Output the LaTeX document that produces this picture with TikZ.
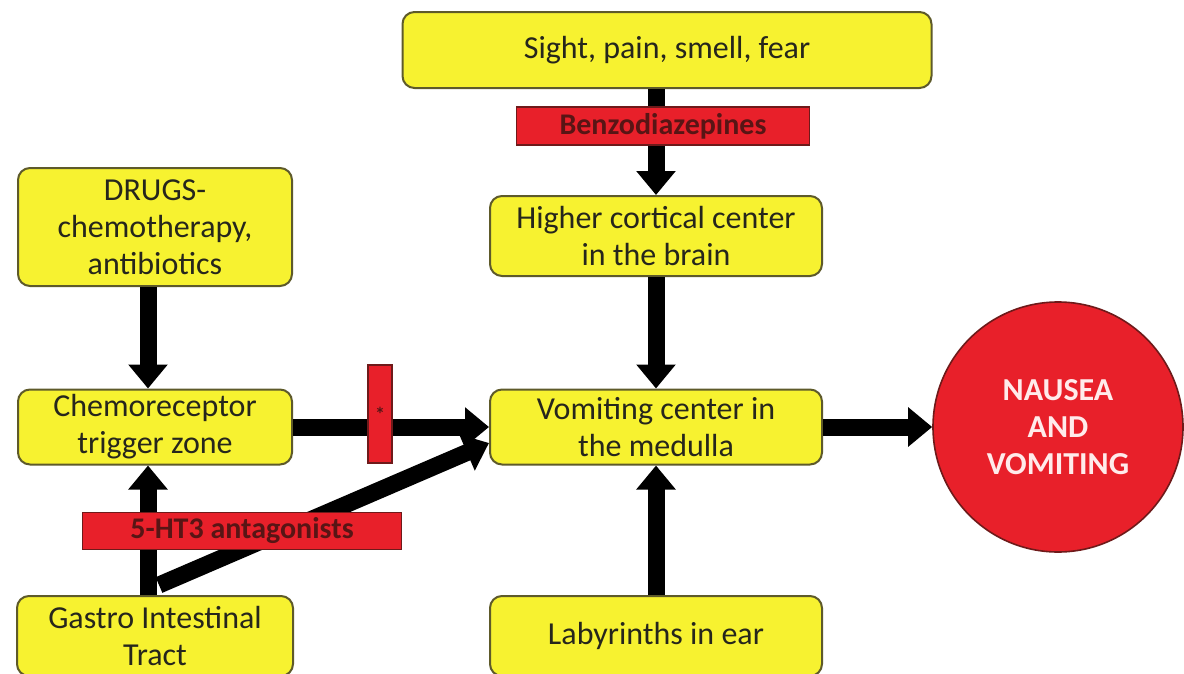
\documentclass[tikz,border=0pt]{standalone}
\usepackage{fontspec}
\setmainfont{Carlito}
\usetikzlibrary{arrows.meta}
\definecolor{ybox}{HTML}{F7F230}
\definecolor{yedge}{HTML}{5E5A2A}
\definecolor{rbox}{HTML}{E8202A}
\definecolor{redge}{HTML}{6E1A1A}
\definecolor{txt}{HTML}{26261C}
\tikzset{
  ybx/.style={draw=yedge, line width=2pt, fill=ybox, rounded corners=12pt, inner sep=0pt, align=center, text=txt,
     font=\fontsize{32}{37}\selectfont},
  rbx/.style={draw=redge, line width=1.6pt, fill=rbox, inner sep=0pt, align=center, text=redge!80!black,
     font=\fontsize{30}{30}\selectfont\bfseries},
  arr/.style={line width=17pt, black, -{Triangle[width=38pt,length=24pt]}, shorten >=0pt},
}
\begin{document}
\begin{tikzpicture}[x=1pt,y=-1pt]
\useasboundingbox (0,0) rectangle (1184,673);
\clip (0,0) rectangle (1184,673);
% yellow boxes
\node[ybx, minimum width=529pt, minimum height=76pt] (sight) at (667,50) {Sight, pain, smell, fear};
\node[ybx, minimum width=332pt, minimum height=80pt] (higher) at (656,236) {Higher cortical center\\in the brain};
\node[ybx, minimum width=274pt, minimum height=118pt] (drugs) at (155,227) {DRUGS-\\chemotherapy,\\antibiotics};
\node[ybx, minimum width=274pt, minimum height=75pt] (chemo) at (155,427) {Chemoreceptor\\trigger zone};
\node[ybx, minimum width=332pt, minimum height=75pt] (vomit) at (656,427) {Vomiting center in\\the medulla};
\node[ybx, minimum width=276pt, minimum height=80pt] (gastro) at (155,636) {Gastro Intestinal\\Tract};
\node[ybx, minimum width=332pt, minimum height=80pt] (laby) at (656,636) {Labyrinths in ear};
\node[circle, draw=redge, line width=1.6pt, fill=rbox, minimum size=250pt, inner sep=0pt, align=center,
      text=red!8!white, font=\fontsize{32}{37}\selectfont\bfseries] (nausea) at (1058,427) {NAUSEA\\AND\\VOMITING};
% arrows
\draw[arr] (higher.north |- sight.south) -- (higher.north);
\draw[arr] (higher.south) -- (vomit.north);
\draw[arr] ([xshift=-7pt]drugs.south) -- ([xshift=-7pt]chemo.north);
\draw[arr] (chemo.east) -- (vomit.west);
\draw[arr] (vomit.east) -- (nausea.west);
\draw[arr] ([xshift=-7pt]gastro.north) -- ([xshift=-7pt]chemo.south);
\draw[arr] (laby.north) -- (vomit.south);
\coordinate (gstart) at ([xshift=4pt,yshift=10pt]gastro.north);
\draw[arr] (gstart) -- ([yshift=-16pt]vomit.west);
% red inhibitor boxes
\node[rbx, minimum width=293pt, minimum height=38pt] (benzo) at (663,126) {Benzodiazepines};
\node[rbx, minimum width=319pt, minimum height=37pt] (ht3) at (242,531) {5-HT3 antagonists};
\node[rbx, minimum width=24pt, minimum height=98pt, font=\fontsize{20}{20}\selectfont\bfseries] (bar) at (380,414) {*};
\end{tikzpicture}
\end{document}
